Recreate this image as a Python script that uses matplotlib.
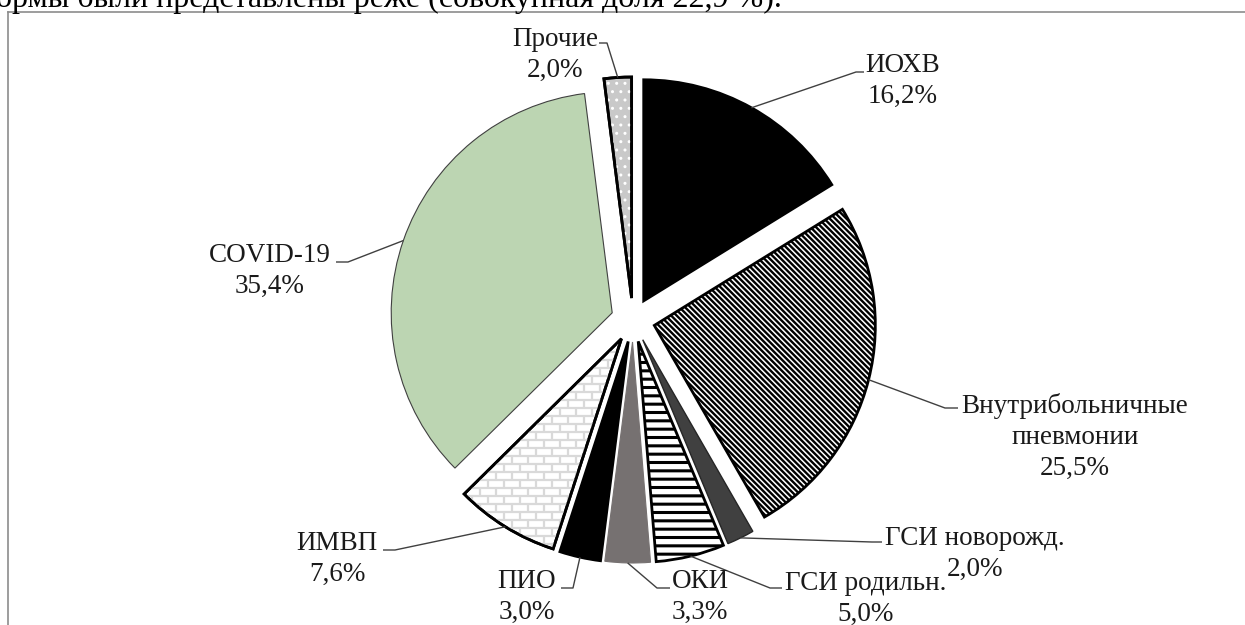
import numpy as np
import matplotlib
matplotlib.use("Agg")
import matplotlib.pyplot as plt
from matplotlib.patches import Wedge
from matplotlib.collections import LineCollection

W, H = 1245, 625

# данные диаграммы (по часовой стрелке от 12 часов)
names = ['ИОХВ', 'Внутрибольничные\nпневмонии', 'ГСИ новорожд.', 'ГСИ родильн.',
         'ОКИ', 'ПИО', 'ИМВП', 'COVID-19', 'Прочие']
values = [16.2, 25.5, 2.0, 5.0, 3.3, 3.0, 7.6, 35.4, 2.0]

# положения подписей (пиксели картинки): центр текста, базовая линия первой строки
label_x = [903, 1075, 975, 866, 700, 527, 337, 270, 555]
label_y = [72, 413, 545, 590, 588, 588, 550, 262, 46]
# излом выноски и конец короткой горизонтальной части
elbow = [(856, 72), (945, 408), (872, 542), (770, 588), (657, 588),
         (573, 588), (395, 550), (348, 262), (607, 43)]
stub = [864, 958, 882, 782, 670, 561, 383, 336, 599]

facecolors = ['black', 'white', '#404040', 'white', '#767171', 'black',
              'white', '#bcd5b2', '#c9c9c9']
hatches = [None, '\\' * 6, None, '--', None, None, None, None, None]
edgecolors = ['black', 'black', '#262626', 'black', '#767171', 'black',
              'black', '#404040', 'black']
linewidths = [2, 2, 1, 2, 0.8, 2, 2, 0.8, 2]
explode = [22] * len(values)

plt.rcParams['font.family'] = ['Liberation Serif', 'DejaVu Serif']
FS = 19.5


def iy(y):
    # перевод координаты картинки (сверху вниз) в координаты осей
    return H - y


fig = plt.figure(figsize=(W / 100, H / 100), dpi=100)
ax = fig.add_axes([0, 0, 1, 1])

wedges, _ = ax.pie(values, startangle=90, counterclock=False,
                   explode=explode, radius=221, center=(633, iy(320)))
ax.set_xlim(0, W)
ax.set_ylim(0, H)
ax.set_aspect('equal')
ax.axis('off')

for i, w in enumerate(wedges):
    w.set_facecolor(facecolors[i])
    w.set_edgecolor(edgecolors[i])
    w.set_linewidth(linewidths[i])
    if hatches[i]:
        w.set_hatch(hatches[i])
        if hasattr(w, 'set_hatch_linewidth'):
            w.set_hatch_linewidth(2.2 if hatches[i] == '--' else 1.7)

# кирпичная штриховка для ИМВП
w = wedges[6]
x0, x1 = w.center[0] - w.r, w.center[0] + 10
y0, y1 = w.center[1] - w.r, w.center[1] + 10
segs = []
row = 8
for k, yy in enumerate(np.arange(y0, y1, row)):
    segs.append([(x0, yy), (x1, yy)])
    off = 0 if k % 2 == 0 else 8
    for xx in np.arange(x0 + off, x1, 16):
        segs.append([(xx, yy), (xx, yy + row)])
bricks = LineCollection(segs, colors='#d9d9d9', linewidths=1.6, zorder=w.get_zorder() + 0.1)
ax.add_collection(bricks)
bricks.set_clip_path(w)
ax.add_patch(Wedge(w.center, w.r, w.theta1, w.theta2, fill=False, ec='black', lw=2,
                   zorder=w.get_zorder() + 0.2))

# белые точки для «Прочие»
w = wedges[8]
dots = Wedge(w.center, w.r, w.theta1, w.theta2, fill=False, ec='white', lw=0,
             hatch='..', zorder=w.get_zorder() + 0.1)
ax.add_patch(dots)
ax.add_patch(Wedge(w.center, w.r, w.theta1, w.theta2, fill=False, ec='black', lw=2,
                   zorder=w.get_zorder() + 0.2))

# подписи и выноски
for i, w in enumerate(wedges):
    mid = np.deg2rad((w.theta1 + w.theta2) / 2)
    ax_pt = (w.center[0] + w.r * np.cos(mid), w.center[1] + w.r * np.sin(mid))
    ex, ey = elbow[i]
    ax.plot([ax_pt[0], ex, stub[i]], [ax_pt[1], iy(ey), iy(ey)],
            color='#404040', lw=1, zorder=5, solid_capstyle='butt')
    lines = names[i].split('\n')
    pct = f"{values[i]:.1f}".replace('.', ',') + '%'
    for j, txt in enumerate(lines + [pct]):
        ax.text(label_x[i], iy(label_y[i] + 31 * j), txt, fontsize=FS,
                ha='center', va='baseline', color='#1a1a1a', zorder=6)

# рамка диаграммы и обрезанная строка текста сверху
fig.add_artist(plt.Line2D([8 / W, 8 / W], [0, 1 - 12 / H], color='#8c8c8c', lw=1.2))
fig.add_artist(plt.Line2D([8 / W, 1], [1 - 12 / H, 1 - 12 / H], color='#8c8c8c', lw=1.2))
fig.text(-4 / W, 1 - 7 / H, 'ормы были представлены реже (совокупная доля 22,9 %).',
         fontsize=23, ha='left', va='baseline', color='black')

fig.savefig('out.png', dpi=100)
